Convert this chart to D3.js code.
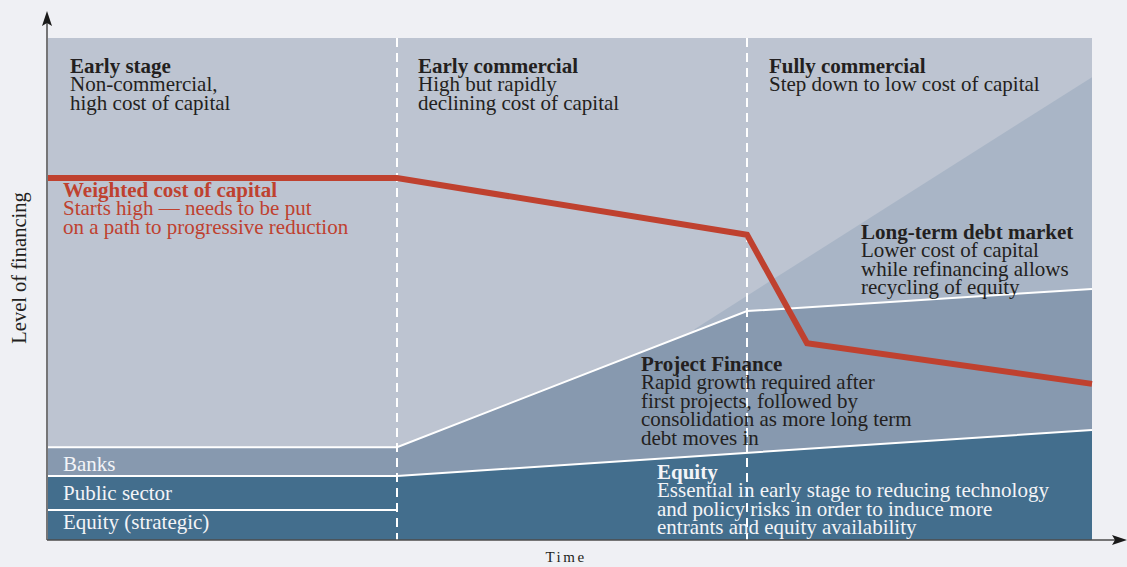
<!DOCTYPE html>
<html>
<head>
<meta charset="utf-8">
<script src="https://cdn.jsdelivr.net/npm/d3@7"></script>
<style>
  body { margin: 0; background: #eff0f4; }
  svg { display: block; }
  text { font-family: "Liberation Serif", "Times New Roman", serif; }
</style>
</head>
<body>
<svg id="chart" width="1127" height="567"></svg>
<script>
// ---- data (time in stages 0..3, level of financing 0..100) ----
const stageBounds = [1, 2];
const equityTop = [{t: 0, v: 12.75}, {t: 1, v: 12.75}, {t: 3, v: 21.9}];
const strategicTop = [{t: 0, v: 6}, {t: 1, v: 6}];
const projectFinanceTop = [{t: 0, v: 18.5}, {t: 1, v: 18.5}, {t: 2, v: 45.6}, {t: 3, v: 50}];
const longTermDebtTop = [{t: 1.85, v: 42}, {t: 3, v: 92.2}];
const costOfCapital = [{t: 0, v: 72.1}, {t: 1, v: 72.1}, {t: 2, v: 60.8}, {t: 2.174, v: 39.2}, {t: 3, v: 31.1}];

const stageLabels = [
  {title: "Early stage", lines: ["Non-commercial,", "high cost of capital"]},
  {title: "Early commercial", lines: ["High but rapidly", "declining cost of capital"]},
  {title: "Fully commercial", lines: ["Step down to low cost of capital"]}
];
const waccLabel = {title: "Weighted cost of capital", lines: ["Starts high — needs to be put", "on a path to progressive reduction"]};
const debtLabel = {title: "Long-term debt market", lines: ["Lower cost of capital", "while refinancing allows", "recycling of equity"]};
const pfLabel = {title: "Project Finance", lines: ["Rapid growth required after", "first projects, followed by", "consolidation as more long term", "debt moves in"]};
const equityLabel = {title: "Equity", lines: ["Essential in early stage to reducing technology", "and policy risks in order to induce more", "entrants and equity availability"]};
const leftBandLabels = ["Banks", "Public sector", "Equity (strategic)"];
const yAxisTitle = "Level of financing";
const xAxisTitle = "Time";

// ---- layout ----
const W = 1127, H = 567;
const x = d3.scaleLinear().domain([0, 1, 2, 3]).range([48, 397, 747, 1092]);
const y = d3.scaleLinear().domain([0, 100]).range([540, 38]);

const svg = d3.select("#chart");
svg.append("rect").attr("width", W).attr("height", H).attr("fill", "#eff0f4");

const COL_TOP = "#bdc4d1", COL_DEBT = "#a9b5c6", COL_PF = "#8799af", COL_EQ = "#436e8d";
const RED = "#bf412f", DARK = "#231f20";

// background band
svg.append("rect")
  .attr("x", x(0)).attr("y", y(100))
  .attr("width", x(3) - x(0)).attr("height", y(0) - y(100))
  .attr("fill", COL_TOP);

const area = d3.area().x(d => x(d.t)).y0(y(0)).y1(d => y(d.v));
const line = d3.line().x(d => x(d.t)).y(d => y(d.v));

svg.append("path").datum(longTermDebtTop).attr("d", area).attr("fill", COL_DEBT);
svg.append("path").datum(projectFinanceTop).attr("d", area).attr("fill", COL_PF);
svg.append("path").datum(equityTop).attr("d", area).attr("fill", COL_EQ);

// white separators
[projectFinanceTop, equityTop, strategicTop].forEach(s => {
  svg.append("path").datum(s).attr("d", line)
    .attr("fill", "none").attr("stroke", "#ffffff").attr("stroke-width", 2);
});

// dashed stage lines
svg.selectAll(".stage").data(stageBounds).join("line")
  .attr("x1", d => x(d)).attr("x2", d => x(d))
  .attr("y1", y(100)).attr("y2", y(0))
  .attr("stroke", "#ffffff").attr("stroke-width", 2)
  .attr("stroke-dasharray", "9,6");

// weighted cost of capital line
svg.append("path").datum(costOfCapital).attr("d", line)
  .attr("fill", "none").attr("stroke", RED).attr("stroke-width", 6)
  .attr("stroke-linejoin", "miter");

// axes
svg.append("line").attr("x1", x(0) - 1).attr("x2", x(0) - 1).attr("y1", y(0)).attr("y2", 22)
  .attr("stroke", "#4d4d4d").attr("stroke-width", 1.5);
svg.append("path").attr("d", `M${x(0) - 1},11 L${x(0) - 6},26 L${x(0) - 1},23 L${x(0) + 4},26 Z`).attr("fill", "#1a1a1a");
svg.append("line").attr("x1", x(0) - 1).attr("x2", 1116).attr("y1", y(0)).attr("y2", y(0))
  .attr("stroke", "#4d4d4d").attr("stroke-width", 1.5);
svg.append("path").attr("d", `M1127,${y(0)} L1112,${y(0) - 5} L1115,${y(0)} L1112,${y(0) + 5} Z`).attr("fill", "#1a1a1a");

// annotation helper
const FS = 21, LH = 18.4;
function block(lbl, px, py, color, titleColor) {
  const t = svg.append("text").attr("x", px).attr("y", py).attr("font-size", FS);
  t.append("tspan").attr("x", px).attr("dy", 0).attr("font-weight", "bold")
    .attr("fill", titleColor || color).text(lbl.title);
  lbl.lines.forEach(l => t.append("tspan").attr("x", px).attr("dy", LH).attr("fill", color).text(l));
}

block(stageLabels[0], x(0) + 22, 73, DARK);
block(stageLabels[1], x(1) + 21, 73, DARK);
block(stageLabels[2], x(2) + 22, 73, DARK);
block(waccLabel, x(0) + 15, 197, RED);
block(debtLabel, 861, 239, DARK);
block(pfLabel, 641, 371, DARK);
block(equityLabel, 657, 479, "#f3f4f7");

// left band labels
const bandY = [470.5, 499.5, 529];
leftBandLabels.forEach((s, i) => {
  svg.append("text").attr("x", x(0) + 15).attr("y", bandY[i]).attr("font-size", FS)
    .attr("fill", "#f3f4f7").text(s);
});

// axis titles
svg.append("text").attr("transform", `translate(26,268) rotate(-90)`)
  .attr("text-anchor", "middle").attr("font-size", 20.5).attr("fill", DARK).text(yAxisTitle);
svg.append("text").attr("x", 566).attr("y", 562).attr("text-anchor", "middle")
  .attr("font-size", 15).attr("letter-spacing", "2.5px").attr("fill", DARK).text(xAxisTitle);
</script>
</body>
</html>
